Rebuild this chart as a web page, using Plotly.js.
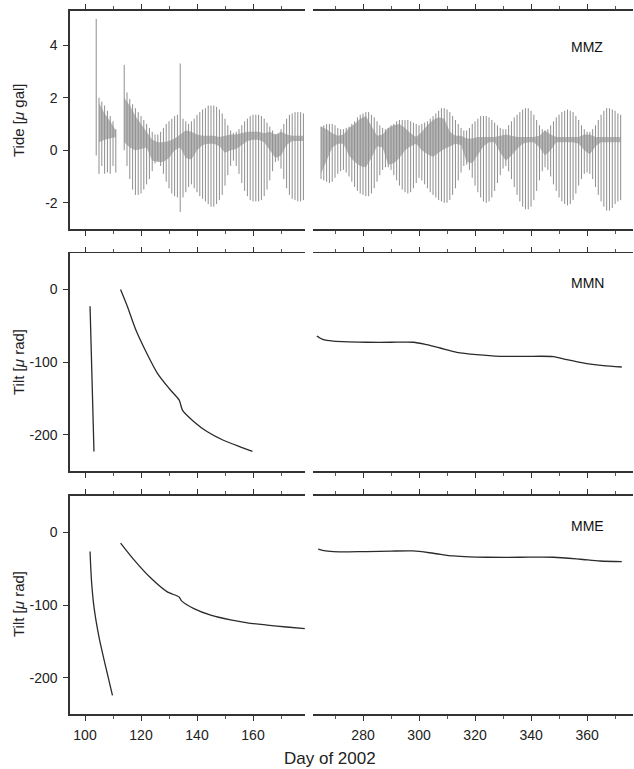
<!DOCTYPE html>
<html>
<head>
<meta charset="utf-8">
<script src="https://cdn.plot.ly/plotly-3.0.1.min.js"></script>
<style>html,body{margin:0;padding:0;background:#fff;}#chart{width:634px;height:769px;}</style>
</head>
<body>
<div id="chart"></div>
<script>
// ---------------- DATA ----------------
// Tide (MMZ): daily oscillation extent (high / low), µgal
const tideDaysLeft = [104,105,106,107,108,109,110,111,
  114,115,116,117,118,119,120,121,122,123,124,125,126,127,128,129,130,131,132,133,134,135,136,137,138,139,140,
  141,142,143,144,145,146,147,148,149,150,151,152,153,154,155,156,157,158,159,160,161,162,163,164,165,166,167,168,169,170,
  171,172,173,174,175,176,177,178];
const tideHiLeft = [5.0,2.0,1.85,1.7,1.5,1.3,1.1,0.8,
  3.25,2.2,1.95,1.75,1.6,1.45,1.3,1.15,1.0,0.85,0.7,0.6,0.6,0.7,0.85,1.0,1.1,1.2,1.3,1.35,3.3,1.2,1.1,1.0,1.1,1.2,1.35,
  1.45,1.55,1.6,1.7,1.7,1.7,1.65,1.55,1.4,1.2,0.95,0.75,0.65,0.7,0.8,0.95,1.1,1.2,1.3,1.35,1.35,1.35,1.3,1.2,1.05,0.9,0.75,0.6,0.6,0.8,
  1.0,1.2,1.35,1.4,1.45,1.45,1.45,1.4];
const tideLoLeft = [-0.2,-0.9,-0.6,-0.9,-0.85,-0.9,-0.6,-0.85,
  0.0,-0.6,-1.1,-1.5,-1.7,-1.7,-1.65,-1.5,-1.3,-1.1,-0.8,-0.5,-0.4,-0.6,-0.9,-1.2,-1.45,-1.65,-1.75,-1.8,-2.35,-1.8,-1.6,-1.4,-1.3,-1.45,-1.6,
  -1.75,-1.85,-1.95,-2.05,-2.15,-2.15,-2.05,-1.9,-1.7,-1.35,-0.95,-0.6,-0.4,-0.6,-0.9,-1.25,-1.55,-1.75,-1.9,-1.95,-1.95,-1.95,-1.9,-1.75,-1.5,-1.15,-0.8,-0.45,-0.4,-0.7,
  -1.1,-1.45,-1.7,-1.85,-1.9,-1.95,-1.95,-1.9];

const tideDaysRight = [265,266,267,268,269,270,271,272,273,274,275,276,277,278,279,280,281,282,283,284,285,286,287,288,289,290,
  291,292,293,294,295,296,297,298,299,300,301,302,303,304,305,306,307,308,309,310,311,312,313,314,315,316,317,318,319,320,
  321,322,323,324,325,326,327,328,329,330,331,332,333,334,335,336,337,338,339,340,341,342,343,344,345,346,347,348,349,350,
  351,352,353,354,355,356,357,358,359,360,361,362,363,364,365,366,367,368,369,370,371,372];
const tideHiRight = [0.9,0.95,1.0,1.0,1.0,0.95,0.85,0.8,0.8,0.85,0.9,1.0,1.1,1.25,1.35,1.4,1.45,1.45,1.35,1.25,1.1,0.95,0.85,0.8,0.85,0.95,
  1.0,1.1,1.15,1.15,1.15,1.15,1.1,1.05,1.0,0.95,1.0,1.05,1.1,1.2,1.3,1.4,1.5,1.6,1.6,1.55,1.45,1.3,1.15,1.0,0.85,0.75,0.75,0.85,1.0,1.1,
  1.2,1.3,1.3,1.3,1.25,1.15,1.05,0.95,0.85,0.8,0.8,0.95,1.1,1.25,1.35,1.45,1.55,1.6,1.6,1.5,1.35,1.15,0.95,0.8,0.75,0.8,0.95,1.1,1.25,1.35,
  1.45,1.5,1.55,1.5,1.45,1.3,1.15,0.95,0.8,0.7,0.7,0.8,0.95,1.15,1.35,1.5,1.6,1.6,1.55,1.5,1.4,1.35];
const tideLoRight = [-1.1,-1.15,-1.2,-1.25,-1.2,-1.05,-0.9,-0.8,-0.75,-0.85,-1.0,-1.2,-1.4,-1.55,-1.65,-1.7,-1.75,-1.75,-1.65,-1.45,-1.2,-0.95,-0.75,-0.65,-0.65,-0.75,
  -0.95,-1.15,-1.35,-1.5,-1.6,-1.65,-1.6,-1.45,-1.25,-1.05,-1.15,-1.3,-1.45,-1.6,-1.7,-1.8,-1.9,-1.95,-2.0,-2.0,-1.9,-1.7,-1.45,-1.15,-0.85,-0.6,-0.55,-0.75,-1.05,-1.35,
  -1.6,-1.8,-1.95,-2.0,-1.95,-1.8,-1.55,-1.25,-0.95,-0.7,-0.6,-0.8,-1.1,-1.4,-1.7,-1.95,-2.15,-2.25,-2.25,-2.15,-1.9,-1.55,-1.15,-0.8,-0.65,-0.75,-1.0,-1.3,-1.55,-1.8,
  -1.95,-2.05,-2.1,-2.05,-1.9,-1.65,-1.35,-1.1,-0.9,-0.85,-0.9,-1.1,-1.4,-1.7,-1.95,-2.15,-2.3,-2.3,-2.2,-2.05,-1.95,-1.9];

// Tide: denser (overlapping) band, upper / lower edge
const darkDaysL1 = [105,107,109,111];
const darkHiL1 = [1.8,1.4,1.1,0.75];
const darkLoL1 = [0.3,0.4,0.45,0.5];
const darkDaysL2 = [114,116,118,120,122,124,126,128,130,132,134,136,138,140,142,144,146,148,150,152,154,156,158,160,162,164,166,168,170,172,174,176,178];
const darkHiL2 = [2.0,1.7,1.3,1.0,0.7,0.4,0.3,0.3,0.35,0.45,0.6,0.75,0.7,0.6,0.55,0.55,0.55,0.5,0.55,0.6,0.6,0.65,0.7,0.7,0.7,0.65,0.7,0.6,0.7,0.6,0.55,0.55,0.55];
const darkLoL2 = [0.3,0.1,0.0,0.05,0.1,-0.4,-0.45,-0.45,-0.3,0.0,0.1,-0.3,-0.35,0.0,0.2,0.25,0.25,0.15,-0.1,0.0,0.05,0.2,0.35,0.4,0.4,0.3,0.0,-0.3,-0.2,0.2,0.35,0.35,0.35];
const darkDaysR = [265,267,269,271,273,275,277,279,281,283,285,287,289,291,293,295,297,299,301,303,305,307,309,311,313,315,317,319,321,323,325,327,329,331,333,335,337,339,341,343,345,347,349,351,353,355,357,359,361,363,365,367,369,371,372];
const darkHiR = [0.9,0.8,0.65,0.55,0.6,0.85,1.0,1.2,1.3,0.95,0.55,0.6,0.85,0.95,1.0,0.85,0.65,0.5,0.7,0.95,1.15,1.25,1.2,0.7,0.55,0.55,0.45,0.45,0.5,0.5,0.5,0.5,0.55,0.6,0.55,0.5,0.5,0.5,0.5,0.55,0.75,0.6,0.5,0.5,0.5,0.5,0.5,0.6,0.6,0.5,0.5,0.5,0.5,0.5,0.5];
const darkLoR = [-0.9,-0.4,0.1,0.25,0.25,-0.2,-0.45,-0.6,-0.65,-0.3,0.15,0.1,-0.55,-0.5,-0.3,0.0,0.15,0.25,0.0,-0.15,-0.25,-0.1,0.05,0.15,0.25,0.2,-0.45,-0.5,-0.2,0.15,0.3,0.3,-0.1,-0.4,-0.2,0.05,0.25,0.3,0.3,0.1,-0.2,0.0,0.3,0.3,0.3,0.3,0.25,0.0,-0.15,0.15,0.3,0.3,0.3,0.3,0.3];

// Tilt MMN (µrad)
const mmnDaysLeft = [101.8,102.5,103.2,null,112.7,115.1,118.1,121.7,125.8,130.0,133.6,134.2,134.8,138.9,143.7,149.6,155.6,159.8];
const mmnLeft = [-23,-123,-223,null,0,-23,-55,-85,-115,-136,-152,-159,-166,-182,-196,-208,-217,-223];
const mmnDaysRight = [263.5,265.8,269.4,275,281.3,290,298,302.7,307.5,313.5,320.6,328.9,338,348,352.8,359.9,365.8,372.4];
const mmnRight = [-64,-69,-71,-72,-72.6,-72.6,-72.6,-76,-80.5,-86.4,-89.7,-92,-92,-92.3,-96.6,-102,-104.8,-106.7];

// Tilt MME (µrad)
const mmeDaysLeft = [101.8,102.3,103.2,105.0,107.4,109.8,null,112.7,117.5,123.5,129.4,133.6,134.4,138.9,144.9,152.0,158.0,165.0,172.0,178.5];
const mmeLeft = [-26.7,-65.8,-102.6,-144,-185,-224,null,-15,-38,-63,-82,-89,-94,-105,-114,-120.5,-124.5,-127.5,-130.2,-132.4];
const mmeDaysRight = [264,266,269.4,275,281.3,290,298,305.1,312.3,318,324.2,336,348,357.5,364.6,372.4];
const mmeRight = [-23.4,-25.5,-26.7,-27,-26.7,-26,-25.8,-29,-32.7,-34,-34.5,-34.5,-34.5,-37.2,-39.6,-40.5];

// Tick labels
const xTicksLeft = [100,120,140,160];
const xTicksRight = [280,300,320,340,360];
const tideTicks = [-2,0,2,4];
const tideTickText = ['-2','0','2','4'];
const tiltTicks = [-200,-100,0];
const tiltTickText = ['-200','-100','0'];
const stationNames = ['MMZ','MMN','MME'];

// ---------------- DRAWING ----------------
const W = 634, H = 769;
const dom = {
  xl:[70/W, 305/W], xr:[313/W, 633/W],
  y1:[1-229/H, 1-11/H], y2:[1-471/H, 1-253.3/H], y3:[1-714.3/H, 1-495.7/H]
};
const rangeL = [94.64, 178.57], rangeR = [262.14, 376.4];

function segs(days, hi, lo){
  const x=[], y=[];
  days.forEach((d,i)=>{ x.push(d,d,null); y.push(lo[i],hi[i],null); });
  return {x, y};
}
function poly(days, hi, lo){
  return {x: days.concat(days.slice().reverse()), y: hi.concat(lo.slice().reverse())};
}
const bandStyle = {type:'scatter', mode:'lines', fill:'toself', fillcolor:'rgba(95,95,95,0.45)', line:{width:0}, hoverinfo:'skip'};
const segStyle = {type:'scatter', mode:'lines', line:{color:'#8e8e8e', width:1}, hoverinfo:'skip'};
const tiltStyle = {type:'scatter', mode:'lines', line:{color:'#2b2b2b', width:1.3, shape:'spline', smoothing:0.7}, connectgaps:false, hoverinfo:'skip'};

const traces = [];
traces.push(Object.assign({}, bandStyle, poly(darkDaysL1, darkHiL1, darkLoL1), {xaxis:'x', yaxis:'y'}));
traces.push(Object.assign({}, bandStyle, poly(darkDaysL2, darkHiL2, darkLoL2), {xaxis:'x', yaxis:'y'}));
traces.push(Object.assign({}, bandStyle, poly(darkDaysR, darkHiR, darkLoR), {xaxis:'x2', yaxis:'y'}));
traces.push(Object.assign({}, segStyle, segs(tideDaysLeft, tideHiLeft, tideLoLeft), {xaxis:'x', yaxis:'y'}));
traces.push(Object.assign({}, segStyle, segs(tideDaysRight, tideHiRight, tideLoRight), {xaxis:'x2', yaxis:'y'}));
traces.push(Object.assign({}, tiltStyle, {x: mmnDaysLeft, y: mmnLeft, xaxis:'x3', yaxis:'y2'}));
traces.push(Object.assign({}, tiltStyle, {x: mmnDaysRight, y: mmnRight, xaxis:'x4', yaxis:'y2'}));
traces.push(Object.assign({}, tiltStyle, {x: mmeDaysLeft, y: mmeLeft, xaxis:'x5', yaxis:'y3'}));
traces.push(Object.assign({}, tiltStyle, {x: mmeDaysRight, y: mmeRight, xaxis:'x6', yaxis:'y3'}));

function xAx(domain, range, tv, anchor, labels){
  return {domain, range, anchor, showline:true, linecolor:'#333', linewidth:1.6, mirror:'ticks',
    ticks:'outside', ticklen:5, tickwidth:1, tickcolor:'#333',
    tickmode:'array', tickvals:tv, ticktext:tv.map(String), showticklabels:labels,
    tickfont:{size:14, color:'#222'}, ticklabelstandoff:2,
    minor:{tickmode:'linear', tick0:0, dtick:10, ticks:'outside', ticklen:3, tickcolor:'#555', tickwidth:1, showgrid:false},
    showgrid:false, zeroline:false, fixedrange:true};
}
function yAx(domain, range, tv, tt, anchor){
  return {domain, range, anchor, showline:true, linecolor:'#333', linewidth:1.6, mirror:false,
    ticks:'outside', ticklen:5, tickwidth:1, tickcolor:'#333',
    tickmode:'array', tickvals:tv, ticktext:tt, tickfont:{size:14, color:'#222'}, ticklabelstandoff:3,
    showgrid:false, zeroline:false, fixedrange:true};
}

const titleFont = {family:'Liberation Sans, Arial, sans-serif', size:15, color:'#222'};
const annotations = [
  {text:'Tide [<i>μ</i> gal]', xref:'paper', yref:'paper', x:18/W, y:1-120/H, textangle:-90, showarrow:false, font:titleFont, xanchor:'center', yanchor:'middle'},
  {text:'Tilt [<i>μ</i> rad]', xref:'paper', yref:'paper', x:18/W, y:1-362/H, textangle:-90, showarrow:false, font:titleFont, xanchor:'center', yanchor:'middle'},
  {text:'Tilt [<i>μ</i> rad]', xref:'paper', yref:'paper', x:18/W, y:1-604/H, textangle:-90, showarrow:false, font:titleFont, xanchor:'center', yanchor:'middle'},
  {text:stationNames[0], xref:'paper', yref:'paper', x:587/W, y:1-47/H, showarrow:false, font:{size:14, color:'#111'}, xanchor:'center', yanchor:'middle'},
  {text:stationNames[1], xref:'paper', yref:'paper', x:587/W, y:1-283/H, showarrow:false, font:{size:14, color:'#111'}, xanchor:'center', yanchor:'middle'},
  {text:stationNames[2], xref:'paper', yref:'paper', x:587/W, y:1-526/H, showarrow:false, font:{size:14, color:'#111'}, xanchor:'center', yanchor:'middle'},
  {text:'Day of 2002', xref:'paper', yref:'paper', x:330/W, y:1-758/H, showarrow:false, font:{size:17, color:'#222'}, xanchor:'center', yanchor:'middle'}
];

const layout = {
  width:W, height:H, margin:{l:0, r:0, t:0, b:0}, autosize:false,
  paper_bgcolor:'#fff', plot_bgcolor:'#fff', showlegend:false,
  font:{family:'Liberation Sans, Arial, sans-serif', size:14, color:'#222'},
  xaxis: xAx(dom.xl, rangeL, xTicksLeft, 'y', false),
  xaxis2: xAx(dom.xr, rangeR, xTicksRight, 'y', false),
  xaxis3: xAx(dom.xl, rangeL, xTicksLeft, 'y2', false),
  xaxis4: xAx(dom.xr, rangeR, xTicksRight, 'y2', false),
  xaxis5: xAx(dom.xl, rangeL, xTicksLeft, 'y3', true),
  xaxis6: xAx(dom.xr, rangeR, xTicksRight, 'y3', true),
  yaxis: yAx(dom.y1, [-3.0, 5.3], tideTicks, tideTickText, 'x'),
  yaxis2: yAx(dom.y2, [-250, 50], tiltTicks, tiltTickText, 'x3'),
  yaxis3: yAx(dom.y3, [-250, 50], tiltTicks, tiltTickText, 'x5'),
  annotations
};

Plotly.newPlot('chart', traces, layout, {staticPlot:true, displayModeBar:false});
</script>
</body>
</html>
